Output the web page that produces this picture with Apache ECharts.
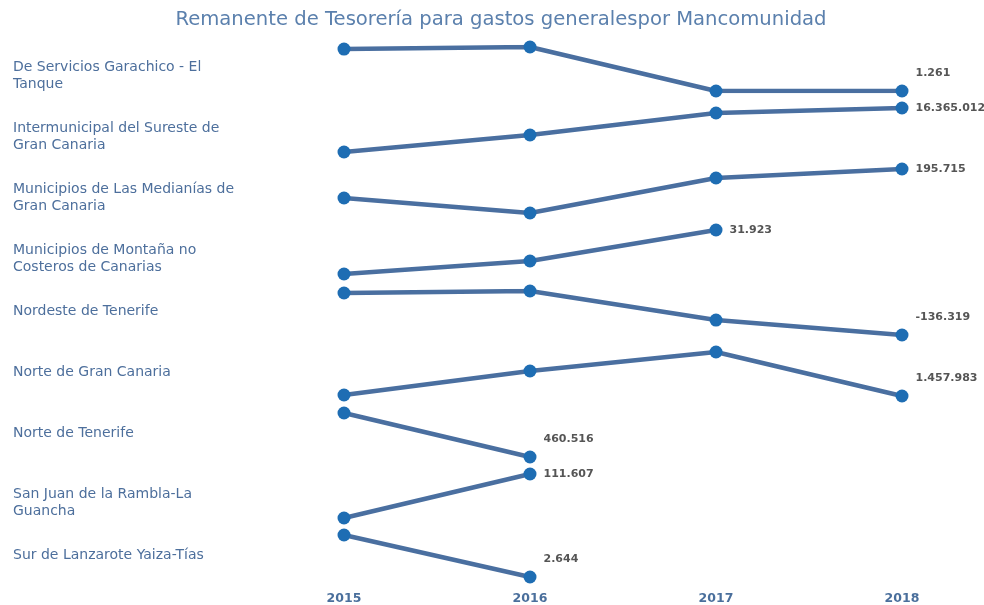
<!DOCTYPE html>
<html>
<head>
<meta charset="utf-8">
<script src="https://cdn.jsdelivr.net/npm/echarts@6/dist/echarts.min.js"></script>
<style>html,body{margin:0;padding:0;background:#fff;}#c{width:984px;height:605px;}</style>
</head>
<body>
<div id="c"></div>
<script>
var years = ['2015', '2016', '2017', '2018'];
var names = [
  'De Servicios Garachico - El Tanque',
  'Intermunicipal del Sureste de Gran Canaria',
  'Municipios de Las Medianías de Gran Canaria',
  'Municipios de Montaña no Costeros de Canarias',
  'Nordeste de Tenerife',
  'Norte de Gran Canaria',
  'Norte de Tenerife',
  'San Juan de la Rambla-La Guancha',
  'Sur de Lanzarote Yaiza-Tías'
];
var vGarachico = [57240, 60000, 1261, 1261];
var vSureste = [10000000, 12460000, 15640000, 16365012];
var vMedianias = [145800, 120000, 180230, 195715];
var vMontana = [10000, 16477, 31923, null];
var vNordeste = [232434, 250000, -5000, -136319];
var vNorteGC = [1477120, 1936400, 2300000, 1457983];
var vNorteTF = [900000, 460516, null, null];
var vSanJuan = [40000, 111607, null, null];
var vSurLanzarote = [60000, 2644, null, null];
var values = [vGarachico, vSureste, vMedianias, vMontana, vNordeste, vNorteGC, vNorteTF, vSanJuan, vSurLanzarote];

function fmt(v) {
  var s = Math.abs(Math.round(v)).toString().replace(/\B(?=(\d{3})+(?!\d))/g, '.');
  return (v < 0 ? '-' : '') + s;
}

var FONT = 'DejaVu Sans, Liberation Sans, Arial, sans-serif';
var TOP0 = 47, STEP = 61, H = 44;
var grids = [], xAxes = [], yAxes = [], series = [], titles = [];
titles.push({
  text: 'Remanente de Tesorería para gastos generalespor Mancomunidad',
  left: 496, top: 5, textAlign: 'center',
  textStyle: { fontFamily: FONT, fontSize: 19.6, fontWeight: 'normal', color: '#5b80ad' }
});
names.forEach(function (n, i) {
  var top = TOP0 + STEP * i;
  grids.push({ left: 344, right: 82, top: top, height: H });
  var last = i === names.length - 1;
  xAxes.push({
    type: 'category', data: years, gridIndex: i, boundaryGap: false,
    axisLine: { show: false }, axisTick: { show: false }, splitLine: { show: false },
    axisLabel: { show: last, margin: 15, fontFamily: FONT, fontSize: 12.5, fontWeight: 'bold', color: '#4a6f9c' }
  });
  yAxes.push({ type: 'value', gridIndex: i, show: false, min: 'dataMin', max: 'dataMax', scale: true });
  var vals = values[i];
  var lastIdx = -1, maxV = -Infinity;
  vals.forEach(function (v, k) { if (v !== null) { lastIdx = k; if (v > maxV) maxV = v; } });
  var data = vals.map(function (v, k) {
    if (v === null) return null;
    if (k === lastIdx) {
      var atTop = v >= maxV;
      return {
        value: v,
        label: {
          show: true, position: 'right', distance: 7,
          offset: atTop ? [0, 0] : [0, -18],
          formatter: function (p) { return fmt(p.value); },
          fontFamily: FONT, fontSize: 11, fontWeight: 'bold', color: '#555555'
        }
      };
    }
    return v;
  });
  series.push({
    type: 'line', xAxisIndex: i, yAxisIndex: i, data: data,
    symbol: 'circle', symbolSize: 13, showSymbol: true,
    lineStyle: { color: '#4a6fa0', width: 4.5 },
    itemStyle: { color: '#1e6db3' },
    emphasis: { disabled: true }, silent: true, animation: false
  });
  titles.push({
    text: n, left: 8, top: top + 7,
    textStyle: {
      fontFamily: FONT, fontSize: 14, fontWeight: 'normal', color: '#4d6f9c',
      width: 238, overflow: 'break', lineHeight: 17
    }
  });
});

var chart = echarts.init(document.getElementById('c'), null, { renderer: 'canvas' });
chart.setOption({
  backgroundColor: '#ffffff',
  animation: false,
  title: titles,
  grid: grids, xAxis: xAxes, yAxis: yAxes, series: series
});
</script>
</body>
</html>
